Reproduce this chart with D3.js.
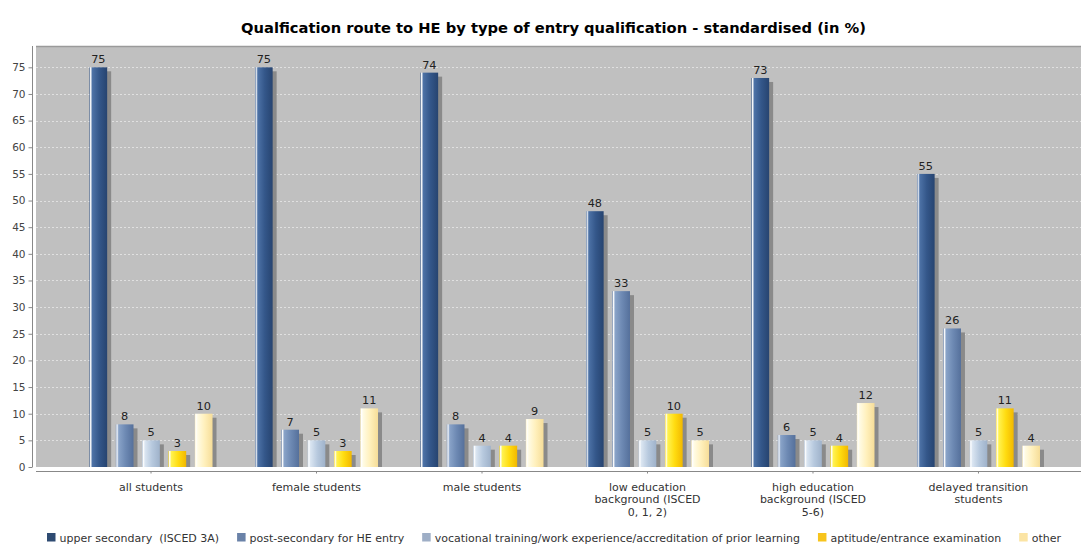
<!DOCTYPE html>
<html><head><meta charset="utf-8">
<script src="https://cdn.jsdelivr.net/npm/d3@7"></script>
<style>
html,body{margin:0;padding:0;background:#fff;overflow:hidden}
text{font-family:"DejaVu Sans",sans-serif}
</style></head>
<body><svg id="c" width="1081" height="545"></svg>
<script>
const title = "Qualfication route to HE by type of entry qualification - standardised (in %)";
const categories = ["all students","female students","male students","low education background (ISCED 0, 1, 2)","high education background (ISCED 5-6)","delayed transition students"];
const categoryLines = [["all students"],["female students"],["male students"],["low education","background (ISCED","0, 1, 2)"],["high education","background (ISCED","5-6)"],["delayed transition","students"]];
const seriesNames = ["upper secondary  (ISCED 3A)","post-secondary for HE entry","vocational training/work experience/accreditation of prior learning","aptitude/entrance examination","other"];
const upperSecondary = [75,75,74,48,73,55];
const postSecondary = [8,7,8,33,6,26];
const vocational = [5,5,4,5,5,5];
const aptitude = [3,3,4,10,4,11];
const other = [10,11,9,5,12,4];
const yTicks = [0,5,10,15,20,25,30,35,40,45,50,55,60,65,70,75];

const seriesValues = [upperSecondary, postSecondary, vocational, aptitude, other];
const colors = [
  {c0:"#34578a", lt:"#4d72a6", dk:"#274470", leg:"#2e4b72"},
  {c0:"#6d89b3", lt:"#89a3c8", dk:"#55709b", leg:"#6a82a8"},
  {c0:"#b7c9de", lt:"#dae5f1", dk:"#9fb2ca", leg:"#9eaec6"},
  {c0:"#ffdc10", lt:"#fff250", dk:"#f2b800", leg:"#f7c41c"},
  {c0:"#fff0bc", lt:"#fffbe4", dk:"#f6dd98", leg:"#fbe4a4"}
];

const svg = d3.select("#c");
const L = 36, T = 46, B = 467, R = 1093.5;

const x0 = d3.scaleBand().domain(categories).range([L, R]).paddingInner(0).paddingOuter(0.195);
const x1 = d3.scaleBand().domain(d3.range(5)).range([-61.5, 61.5]).paddingInner(0.33).paddingOuter(0);
const y = d3.scaleLinear().domain([0, 79]).range([B, T]);

const defs = svg.append("defs");
colors.forEach((c,i)=>{
  const g = defs.append("linearGradient").attr("id","g"+i).attr("x1","0").attr("x2","1").attr("y1","0").attr("y2","0");
  [[0,c.c0],[0.06,"#ffffff"],[0.16,c.lt],[0.55,c.c0],[1,c.dk]].forEach(s=>g.append("stop").attr("offset",s[0]).attr("stop-color",s[1]));
});
defs.append("clipPath").attr("id","plotclip").append("rect").attr("x",L).attr("y",T).attr("width",R-L).attr("height",B-T);

// title
svg.append("text").attr("x",553.5).attr("y",33).attr("text-anchor","middle")
  .attr("font-size","14.7px").attr("font-weight","bold").attr("fill","#000").text(title);

// plot background
svg.append("rect").attr("x",L).attr("y",T).attr("width",R-L).attr("height",B-T).attr("fill","#c0c0c0");
svg.append("line").attr("x1",L).attr("x2",R).attr("y1",T+0.5).attr("y2",T+0.5).attr("stroke","#9a9a9a").attr("stroke-width",1.5);

// gridlines
svg.append("g").selectAll("line").data(yTicks.filter(d=>d>0)).join("line")
  .attr("x1",L).attr("x2",R).attr("y1",d=>Math.round(y(d))+0.5).attr("y2",d=>Math.round(y(d))+0.5)
  .attr("stroke","#e0e0e0").attr("stroke-dasharray","2,2").attr("stroke-width",1);

// y axis
const yAxis = svg.append("g").attr("transform","translate(32.5,0)")
  .call(d3.axisLeft(y).tickValues(yTicks).tickSize(4).tickPadding(3).tickSizeOuter(0));
yAxis.select(".domain").attr("stroke","#888").attr("d",`M0,${T}V${B}`);
yAxis.selectAll(".tick line").attr("stroke","#888");
yAxis.selectAll("text").attr("font-size","10.5px").attr("fill","#444").attr("font-family","DejaVu Sans, sans-serif");

// x axis
const xAxis = svg.append("g").attr("transform",`translate(0,${B+4.5})`)
  .call(d3.axisBottom(x0).tickSize(2).tickSizeOuter(0).tickFormat(""));
xAxis.select(".domain").attr("stroke","#888").attr("d",`M${L},0H${R}`);
xAxis.selectAll(".tick line").attr("stroke","#888");
xAxis.selectAll(".tick text").remove();
const catG = svg.append("g");
categories.forEach((c,i)=>{
  const t = catG.append("text").attr("x",x0(c)+x0.bandwidth()/2).attr("y",491)
    .attr("text-anchor","middle").attr("font-size","11px").attr("fill","#333");
  categoryLines[i].forEach((ln,j)=>t.append("tspan").attr("x",x0(c)+x0.bandwidth()/2).attr("dy",j===0?0:12.3).text(ln));
});

// bars
const rows = [];
seriesValues.forEach((vals,s)=>vals.forEach((v,ci)=>rows.push({s, cat:categories[ci], v})));
const bx = d=>x0(d.cat)+x0.bandwidth()/2 + x1(d.s);
const bw = x1.bandwidth();
const plot = svg.append("g").attr("clip-path","url(#plotclip)");
plot.selectAll("rect.sh").data(rows).join("rect").attr("class","sh")
  .attr("x",d=>bx(d)+4).attr("y",d=>y(d.v)+4).attr("width",bw).attr("height",d=>B-y(d.v))
  .attr("fill","#8a8a8a");
plot.selectAll("rect.bar").data(rows).join("rect").attr("class","bar")
  .attr("x",bx).attr("y",d=>y(d.v)).attr("width",bw).attr("height",d=>B-y(d.v))
  .attr("fill",d=>`url(#g${d.s})`);
svg.append("g").selectAll("text").data(rows).join("text")
  .attr("x",d=>bx(d)+bw/2).attr("y",d=>y(d.v)-4).attr("text-anchor","middle")
  .attr("font-size","11.3px").attr("fill","#222").text(d=>d.v);

// legend
const leg = svg.append("g");
const groups = [];
let sumW = 0;
seriesNames.forEach((n,i)=>{
  const g = leg.append("g");
  g.append("rect").attr("x",0).attr("y",-8.5).attr("width",8.5).attr("height",8.5).attr("fill",colors[i].leg);
  const t = g.append("text").attr("x",12.5).attr("y",0).attr("font-size","11px").attr("fill","#333")
    .style("white-space","pre").text(n);
  const w = 12.5 + t.node().getComputedTextLength();
  groups.push({g,w}); sumW += w;
});
const legL = 47, legR = 1061;
const gap = Math.max(6, (legR - legL - sumW) / (groups.length - 1));
let cx = (legL + legR)/2 - (sumW + gap*(groups.length-1))/2;
groups.forEach(o=>{ o.g.attr("transform",`translate(${cx},0)`); cx += o.w + gap; });
leg.attr("transform",`translate(0,541.5)`);
</script>
</body></html>
